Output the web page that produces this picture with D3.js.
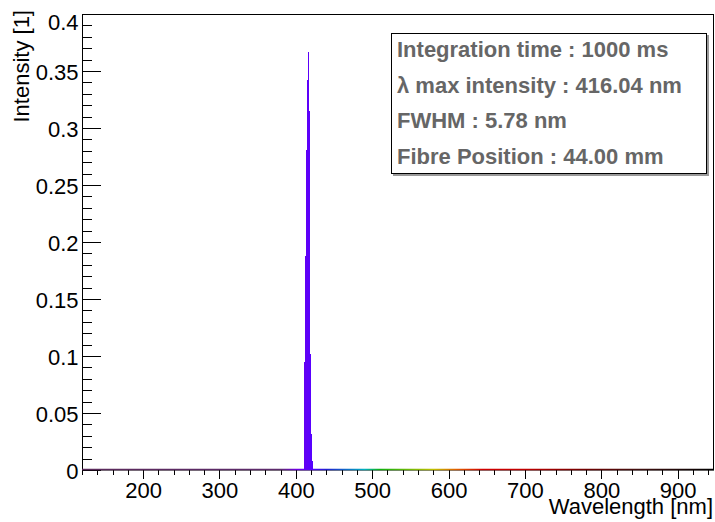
<!DOCTYPE html>
<html>
    <head>
        <script src="https://cdn.jsdelivr.net/npm/d3@7"></script>
        <style>
            body { margin: 0; background: #fff; }
            text { font-family: "Liberation Sans", Arial, Helvetica, sans-serif; }
        </style>
    </head>
    <body>
        <svg id="chart" width="715" height="522"></svg>
        <script>
            // Data (bin lower edge in nm, bin width 1.3 nm)
            var binStart = [410.8, 412.1, 413.4, 414.7, 416.0, 417.3, 418.6, 419.9, 421.2];
            var intensity = [0.095, 0.188, 0.281, 0.342, 0.367, 0.315, 0.102, 0.032, 0.008];
            var binWidth = 1.3;

            var xTicks = [200, 300, 400, 500, 600, 700, 800, 900];
            var yTicks = [0, 0.05, 0.1, 0.15, 0.2, 0.25, 0.3, 0.35, 0.4];
            var yTickLabels = ["0", "0.05", "0.1", "0.15", "0.2", "0.25", "0.3", "0.35", "0.4"];

            var infoLines = [
                "Integration time : 1000 ms",
                "\u03bb max intensity : 416.04 nm",
                "FWHM : 5.78 nm",
                "Fibre Position : 44.00 mm"
            ];

            // spectral colour palette (nm -> colour)
            var specNm = [120, 380, 400, 420, 440, 490, 510, 580, 610, 645, 700, 780, 850, 947.5];
            var specCol = ["#5a2a5a", "#5c2a6c", "#7000e0", "#5800ff", "#2020d0", "#00b0c0", "#10b010", "#c0c000",
                           "#e06000", "#d00000", "#c00000", "#700000", "#401010", "#000000"];

            var svg = d3.select("svg#chart");
            var x = d3.scaleLinear().domain([120, 947.5]).range([82, 714]);
            var y = d3.scaleLinear().domain([0, 0.4]).range([470, 14]);
            var colour = d3.scaleLinear().domain(specNm).range(specCol);

            // minor ticks every 20 nm / 0.01
            var xMinor = d3.range(120, 947, 20).filter(function(d) { return d % 100 != 0; });
            var yMinor = d3.range(0, 41).map(function(d) { return d / 100; }).filter(function(d, i) { return i % 5 != 0; });

            // Frame
            svg.append("rect").attr("x", 82.5).attr("y", 14.5).attr("width", 631).attr("height", 455.5)
                .attr("fill", "none").attr("stroke", "#000").attr("stroke-width", 1);

            // X axis
            var gx = svg.append("g").attr("transform", "translate(0," + 470 + ")")
                .call(d3.axisBottom(x).tickValues(xTicks).tickSize(9).tickPadding(3.5).tickFormat(d3.format("d")));
            gx.append("g").call(d3.axisBottom(x).tickValues(xMinor).tickSize(5).tickFormat(""));
            gx.selectAll(".domain").remove();
            gx.selectAll("text").attr("font-size", "22px").attr("fill", "#000").attr("font-family", null);
            gx.selectAll("line").attr("stroke", "#000").attr("shape-rendering", "crispEdges");

            svg.append("text").attr("x", 713).attr("y", 514).attr("text-anchor", "end")
                .attr("font-size", "22px").text("Wavelength [nm]");

            // Y axis (ticks inside the frame)
            var gy = svg.append("g").attr("transform", "translate(82.5,0)")
                .call(d3.axisLeft(y).tickValues(yTicks).tickSize(-18).tickPadding(4)
                    .tickFormat(function(d, i) { return yTickLabels[i]; }));
            gy.append("g").call(d3.axisLeft(y).tickValues(yMinor).tickSize(-9).tickFormat(""));
            gy.selectAll(".domain").remove();
            gy.selectAll("text").attr("font-size", "22px").attr("fill", "#000").attr("font-family", null).attr("dy", "0.4em");
            gy.selectAll(".tick text").filter(function(d) { return d == 0.4; }).attr("dy", "0.7em");
            gy.selectAll("line").attr("stroke", "#000").attr("shape-rendering", "crispEdges");

            svg.append("text").attr("transform", "rotate(-90)").attr("x", -10).attr("y", 29)
                .attr("text-anchor", "end").attr("font-size", "22px").text("Intensity [1]");

            // Colour-coded zero line of the spectrum
            var grad = svg.append("defs").append("linearGradient").attr("id", "spec")
                .attr("gradientUnits", "userSpaceOnUse")
                .attr("x1", x(120)).attr("x2", x(947.5)).attr("y1", 0).attr("y2", 0);
            grad.selectAll("stop").data(specNm).enter().append("stop")
                .attr("offset", function(d) { return (x(d) - x(120)) / (x(947.5) - x(120)); })
                .attr("stop-color", function(d, i) { return specCol[i]; });
            svg.append("line").attr("x1", x(120)).attr("x2", x(947.5)).attr("y1", y(0) - 0.5).attr("y2", y(0) - 0.5)
                .attr("stroke", "url(#spec)").attr("stroke-width", 1.5);

            // Spectrum bins
            svg.append("g").selectAll("rect").data(binStart).enter().append("rect")
                .attr("x", function(d) { return x(d); })
                .attr("width", function(d) { return x(d + binWidth) - x(d); })
                .attr("y", function(d, i) { return y(intensity[i]); })
                .attr("height", function(d, i) { return y(0) - y(intensity[i]); })
                .attr("fill", function(d) { return colour(d + binWidth / 2); })
                .attr("shape-rendering", "crispEdges");

            // Info box
            svg.append("rect").attr("x", 393).attr("y", 35).attr("width", 316).attr("height", 141).attr("fill", "#999");
            svg.append("rect").attr("x", 391.5).attr("y", 33.5).attr("width", 315).attr("height", 140)
                .attr("fill", "#fff").attr("stroke", "#000").attr("stroke-width", 1);
            svg.append("g").selectAll("text").data(infoLines).enter().append("text")
                .attr("x", 397).attr("y", function(d, i) { return 57 + i * 35.5; })
                .attr("font-size", "22px").attr("font-weight", "bold").attr("fill", "#666")
                .text(function(d) { return d; });
        </script>
    </body>
</html>
